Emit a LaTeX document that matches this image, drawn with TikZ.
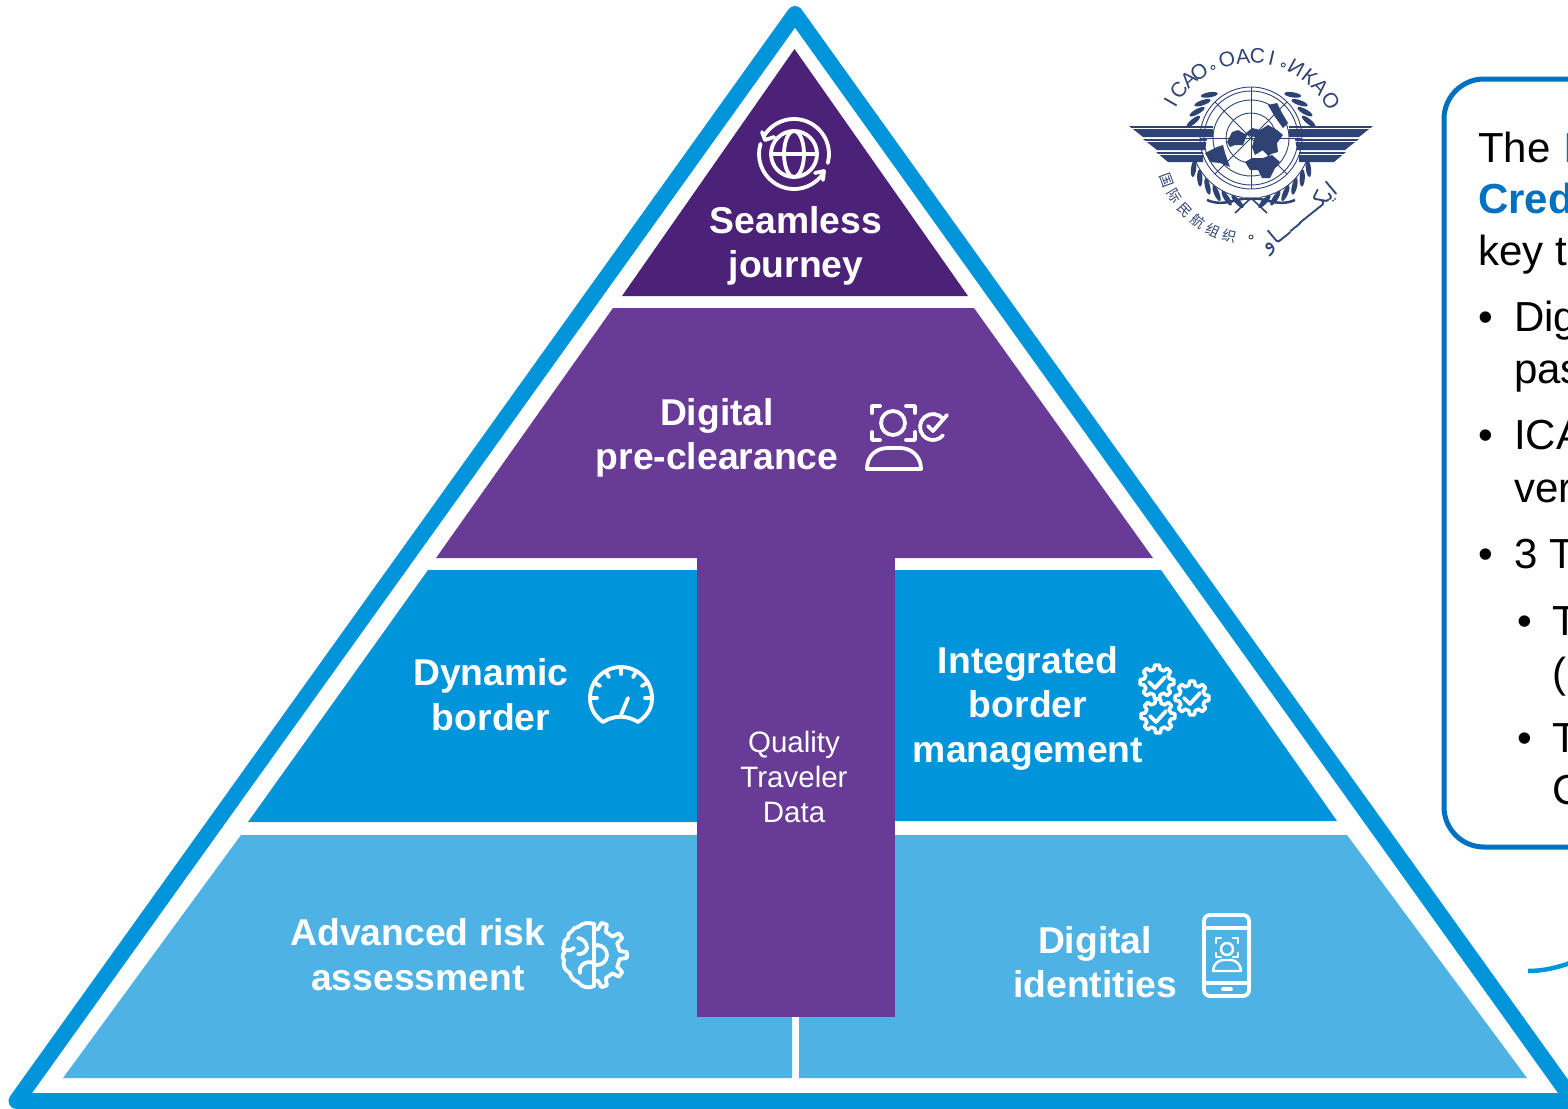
\documentclass[tikz,border=0pt]{standalone}
\usepackage{fontspec}
\setmainfont{Liberation Sans}
\newfontfamily\cjk{Noto Sans CJK SC}
\newfontfamily\arabicfont[Script=Arabic]{DejaVu Sans}
\TeXXeTstate=1
\definecolor{edgeblue}{HTML}{0095DA}
\definecolor{midblue}{HTML}{0094DB}
\definecolor{lightblue}{HTML}{4FB2E4}
\definecolor{darkpurple}{HTML}{4B2277}
\definecolor{midpurple}{HTML}{673B96}
\definecolor{cardblue}{HTML}{0070C0}
\definecolor{logoblue}{HTML}{2E4374}
\tikzset{
  tierlabel/.style={text=white,font=\fontsize{37.3}{44.5}\selectfont\bfseries,align=center},
  stemlabel/.style={text=white,font=\fontsize{29.5}{35}\selectfont,align=center},
  cardtext/.style={anchor=base west,inner sep=0pt,text=black,font=\fontsize{42}{52}\selectfont},
  cardbold/.style={cardtext,text=cardblue,font=\fontsize{42}{52}\selectfont\bfseries},
  icon/.style={draw=white,line width=3.8pt,line cap=round,line join=round},
  logoletter/.style={inner sep=0pt,text=logoblue,font=\fontsize{21}{21}\selectfont},
  logoline/.style={draw=logoblue,line width=0.9pt}
}
\begin{document}
\begin{tikzpicture}[x=1pt,y=-1pt]
\useasboundingbox (0,0) rectangle (1568,1108);
\clip (0,0) rectangle (1568,1108);

% pyramid
\draw[edgeblue,line width=16pt,line join=round] (795,14) -- (1573.5,1101) -- (16.5,1101) -- cycle;
\fill[darkpurple] (794.5,49) -- (968,296) -- (622,296) -- cycle;
\fill[midpurple] (613,308) -- (974,308) -- (1153,558) -- (436,558) -- cycle;
\fill[midblue] (428,570) -- (697,570) -- (697,822) -- (248,822) -- cycle;
\fill[midblue] (895,570) -- (1161,570) -- (1337,821) -- (895,821) -- cycle;
\fill[lightblue] (241,835) -- (792,835) -- (792,1078) -- (63,1078) -- cycle;
\fill[lightblue] (799,835) -- (1347,835) -- (1527,1078) -- (799,1078) -- cycle;
\fill[midpurple] (697,558) rectangle (895,1017);

% labels
\node[tierlabel] (seamless) at (796,246) {Seamless\\journey};
\node[tierlabel] (preclear) at (717,438) {Digital\\pre-clearance};
\node[tierlabel] (dynamic) at (491,694.5) {Dynamic\\border};
\node[tierlabel] (integrated) at (1028,708) {Integrated\\border\\management};
\node[tierlabel] (advanced) at (418,954.5) {Advanced risk\\assessment};
\node[tierlabel] (identities) at (1095,962) {Digital\\identities};
\node[stemlabel] (quality) at (794,777) {Quality\\Traveler\\Data};

% globe icon
\draw[icon] (794,154) circle (23);
\draw[icon] (794,154) ellipse (10 and 23);
\draw[icon] (771,154) -- (817,154);
\draw[icon] (794,154) ++(212:35) arc[start angle=212,end angle=375,radius=35];
\draw[icon] (794,154) ++(36:35) arc[start angle=36,end angle=197,radius=35];
\draw[icon] (762,132) -- (765,140) -- (774,137);
\draw[icon] (815,173) -- (824,171) -- (823,180);

% person with tick
\draw[icon] (893,423) circle (12);
\draw[icon] (880,406) -- (872,406) -- (872,413);
\draw[icon] (906,406) -- (915,406) -- (915,413);
\draw[icon] (872,432) -- (872,440) -- (880,440);
\draw[icon] (915,432) -- (915,440) -- (906,440);
\draw[icon] (867,469) -- (921,469) .. controls (921,455) and (910,448) .. (900,448) -- (888,448) .. controls (877,448) and (867,455) .. (867,469) -- cycle;
\draw[icon] (933,427) ++(-40:13) arc[start angle=-40,end angle=-320,radius=13];
\draw[icon] (928,426) -- (933,431) -- (947,415);

% gauge
\draw[icon] (603,722) .. controls (592,714) and (590,705) .. (590,698) arc[start angle=180,end angle=360,radius=31] .. controls (652,705) and (650,714) .. (638,722) .. controls (627,715) and (614,715) .. (603,722) -- cycle;
\foreach \t in {180,210,240,270,300,330,360}
  \draw[icon] (621,698) ++(\t:31) -- ++(\t:-7);
\draw[icon] (628,698) -- (621,715);

% gears
\foreach \cx/\cy in {1192/698,1157/682,1158/716} {
  \draw[icon,fill=midblue,line width=3.6pt] plot[variable=\t,samples at={-14,-8,8,14,31,37,53,59,76,82,98,104,121,127,143,149,166,172,188,194,211,217,233,239,256,262,278,284,301,307,323,329}]
    ({\cx+((abs(mod(\t+382.5,45)-22.5)<10)?17:13)*cos(\t)},{\cy+((abs(mod(\t+382.5,45)-22.5)<10)?17:13)*sin(\t)}) -- cycle;
  \draw[icon] (\cx-8,\cy) -- (\cx-2,\cy+6) -- (\cx+8,\cy-5);
}

% brain and gear
\draw[icon] (594,924) -- (594,986);
\draw[icon] plot[variable=\t,samples at={-90,-81,-77,-67,-63,-45,-41,-31,-27,-9,-5,5,9,27,31,41,45,63,67,77,81,90}]
  ({594+((abs(mod(\t+378,36)-18)<7)?33:26)*cos(\t)},{955+((abs(mod(\t+378,36)-18)<7)?33:26)*sin(\t)});
\draw[icon] (594,947) -- (597,945) arc[start angle=-90,end angle=90,radius=10] -- (594,965);
\draw[icon] (594,924) to[bend right=30] (578,927) to[bend right=30] (572,931) to[bend right=40] (568,938) to[bend right=40] (564,945) to[bend right=40] (565,952) to[bend right=50] (564,960) to[bend right=40] (570,973) to[bend right=30] (578,982) to[bend right=40] (594,986);
\draw[icon] (578,938) to[bend left=40] (587,948) to[bend left=40] (578,954);
\draw[icon] (594,963) to[bend right=30] (582,965) to[bend right=30] (580,973);
\draw[icon] (566,950) to[bend right=30] (574,948);

% phone
\draw[icon,rounded corners=6pt] (1204,915) rectangle (1249,996);
\draw[icon] (1204,928) -- (1249,928);
\draw[icon] (1204,983) -- (1249,983);
\draw[icon] (1223,989) -- (1231,989);
\draw[icon,line width=2.4pt] (1227,949) circle (6);
\draw[icon,line width=2.4pt] (1221,938) -- (1216,938) -- (1216,943);
\draw[icon,line width=2.4pt] (1233,938) -- (1238,938) -- (1238,943);
\draw[icon,line width=2.4pt] (1216,953) -- (1216,957) -- (1221,957);
\draw[icon,line width=2.4pt] (1238,953) -- (1238,957) -- (1233,957);
\draw[icon,line width=2.4pt] (1213,971) -- (1241,971) .. controls (1241,965) and (1236,960) .. (1231,960) -- (1223,960) .. controls (1218,960) and (1213,965) .. (1213,971) -- cycle;

% logo wings and globe
\foreach \s in {1,-1} {
  \begin{scope}[shift={(1251,0)},xscale=\s]
    \fill[logoblue] (122,126) -- (38,126) -- (38,137) -- (108,137) -- cycle;
    \fill[logoblue] (108,139) -- (44,139) -- (46,150) -- (94,150) -- cycle;
    \fill[logoblue] (95,152) -- (48,152) -- (48,162) -- (83,162) -- cycle;
    \draw[white,line width=0.7pt] (38,128.5) -- (119,128.5);
    \draw[white,line width=0.7pt] (44,141.5) -- (106,141.5);
    \draw[white,line width=0.7pt] (48,154.5) -- (93,154.5);
    \foreach \f in {28,38,48,58,68,78}
      \fill[logoblue,shift={(0,138)},shift={(\f:65)},rotate=125-\f] (0,0) ellipse (8.5 and 2.6);
    \foreach \f in {-16,-26,-36,-46}
      \fill[logoblue,shift={(0,138)},shift={(\f:60)},rotate=125-\f] (0,0) ellipse (8.5 and 2.6);
    \draw[logoline] (0,138) ++(82:60) arc[start angle=82,end angle=22,radius=60];
    \draw[logoblue,line width=1.6pt] (0,198) -- (-16,213);
  \end{scope}
}
\draw[logoblue,line width=2.5pt] (1207,200) .. controls (1225,208) and (1240,196) .. (1251,199) .. controls (1262,196) and (1277,208) .. (1295,200);
\foreach \r in {51,38,25}
  \draw[logoline] (1251,138) circle (\r);
\draw[logoline] (1251,138) circle (47);
\draw[logoline] (1200,138) -- (1302,138);
\draw[logoline] (1251,87) -- (1251,189);
\draw[logoline] (1215,102) -- (1287,174);
\draw[logoline] (1287,102) -- (1215,174);
\fill[logoblue] (1227,142) -- (1232,132) -- (1238,130) -- (1245,134) -- (1252,128) -- (1260,130) -- (1268,125) -- (1277,130) -- (1283,135) -- (1277,143) -- (1278,152) -- (1268,155) -- (1263,150) -- (1255,155) -- (1252,147) -- (1255,137) -- (1247,135) -- (1243,145) -- (1235,145) -- (1230,147) -- cycle;
\fill[logoblue] (1245,162) -- (1252,158) -- (1263,158) -- (1272,155) -- (1280,162) -- (1275,168) -- (1270,178) -- (1262,178) -- (1258,170) -- (1250,170) -- cycle;
\fill[logoblue] (1205,153) -- (1217,147) -- (1223,145) -- (1225,153) -- (1230,167) -- (1220,163) -- (1210,162) -- cycle;
\fill[logoblue] (1268,105) -- (1277,103) -- (1282,113) -- (1288,123) -- (1283,128) -- (1275,117) -- cycle;

% logo lettering
\foreach \ch/\a [count=\i] in {I/150,C/141,A/132,O/124,O/105,A/95,C/86,I/77,И/61,К/51,А/42,О/31} {
  \node[logoletter,rotate=\a-90] (top\i) at ({1251+93*cos(\a)},{149-93*sin(\a)}) {\ch};
}
\foreach \a in {115,69}
  \draw[logoline] ({1251+90*cos(\a)},{149-90*sin(\a)}) circle (2);
\foreach \ch [count=\i] in {国,际,民,航,组,织} {
  \node[logoletter,font=\fontsize{14}{14}\selectfont\cjk,rotate=189+11.2*\i-270] (zh\i) at ({1251+90*cos(189+11.2*\i)},{149-90*sin(189+11.2*\i)}) {\ch};
}
\draw[logoline] (1251,237) circle (2);
\node[logoletter,font=\fontsize{22}{22}\selectfont\arabicfont,rotate=40] (arabic) at (1300,218) {\beginR ايكــــــــاو\endR};

% card
\draw[cardblue,line width=5pt,rounded corners=40pt] (1444,79) rectangle (1680,847);
\node[cardtext] (the) at (1478,162) {The};
\node[cardbold] (thei) at (1564,162) {I};
\node[cardbold] (cred) at (1478,213) {Cred};
\node[cardtext] (key) at (1478,265) {key t};
\foreach \nm/\y/\tx in {dig/331/Dig,pas/383/pas,ica/449/ICA,ver/502/ver,three/568/3 T}
  \node[cardtext] (\nm) at (1514,\y) {\tx};
\foreach \nm/\y/\tx in {typea/635/T,paren/687/(,typeb/752/T,cap/804/C}
  \node[cardtext] (\nm) at (1552,\y) {\tx};
\foreach \nm/\y in {bdig/331,bica/449,bthree/568}
  \node[cardtext] (\nm) at (1478,\y) {•};
\foreach \nm/\y in {btypea/635,btypeb/752}
  \node[cardtext] (\nm) at (1517,\y) {•};

% bit of arc at the edge
\draw[edgeblue,line width=4.5pt] (1528,971) .. controls (1542,971) and (1556,968) .. (1570,963);
\end{tikzpicture}
\end{document}
